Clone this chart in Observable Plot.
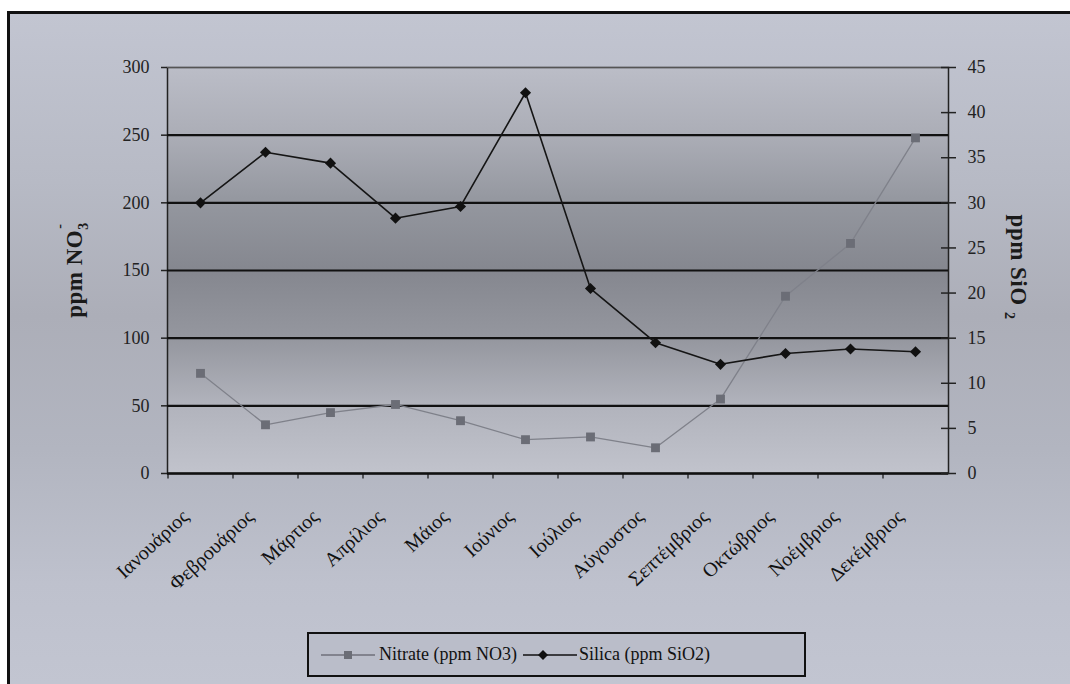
<!DOCTYPE html>
<html><head><meta charset="utf-8">
<script src="https://cdn.jsdelivr.net/npm/d3@7"></script>
<script src="https://cdn.jsdelivr.net/npm/@observablehq/plot@0.6"></script>
<style>
body{margin:0;background:#fff;width:1070px;height:684px;overflow:hidden;font-family:"Liberation Serif","Times New Roman",serif;position:relative;}
#bg{position:absolute;left:7px;top:11px;width:1060px;height:670px;border-left:3px solid #111;border-top:3px solid #111;
 background:linear-gradient(to bottom,#c2c5d1 0%,#b7bac5 25%,#acaeb8 45%,#b2b5c0 65%,#bec1cd 85%,#c2c5d1 100%);}
#chart{position:absolute;left:0;top:0;}
.ttl{position:absolute;font-weight:bold;font-size:23px;color:#1a1a1a;white-space:nowrap;letter-spacing:0.5px;font-family:"Liberation Serif",serif;}
#legend{position:absolute;left:307px;top:632px;width:495px;height:41px;border:2px solid #111;background:#babdc9;
 display:flex;align-items:center;font-size:18px;color:#111;}
#legend span{white-space:nowrap;font-family:"Liberation Serif","Times New Roman",serif;}
</style></head><body>
<div id="bg"></div>
<div id="chart"></div>
<div class="ttl" id="tl" style="left:75px;top:270px;transform:translate(-50%,-50%) rotate(-90deg);">ppm NO<span style="position:relative;display:inline-block;"><span style="font-size:14px;position:relative;top:6px;">3</span><span style="font-size:14px;position:absolute;left:1px;top:-10px;">-</span></span></div>
<div class="ttl" id="tr" style="left:1018px;top:267px;transform:translate(-50%,-50%) rotate(90deg);">ppm SiO <span style="font-size:14px;position:relative;top:6px;">2</span></div>
<div id="legend">
 <svg width="62" height="20" style="margin-left:8px"><line x1="4" y1="10" x2="58" y2="10" stroke="#6f717a" stroke-width="1.5"/><rect x="27" y="6" width="8" height="8" fill="#6b6d76"/></svg>
 <span>Nitrate (ppm NO3)</span>
 <svg width="58" height="20" style="margin-left:4px"><line x1="2" y1="10" x2="56" y2="10" stroke="#111" stroke-width="1.5"/><path d="M22,5 L27,10 L22,15 L17,10 Z" fill="#111"/></svg>
 <span>Silica (ppm SiO2)</span>
</div>
<script>
const months = ["Ιανουάριος","Φεβρουάριος","Μάρτιος","Απρίλιος","Μάιος","Ιούνιος","Ιούλιος","Αύγουστος","Σεπτέμβριος","Οκτώβριος","Νοέμβριος","Δεκέμβριος"];
const nitrate = [74, 36, 45, 51, 39, 25, 27, 19, 55, 131, 170, 248];
const silica = [30, 35.6, 34.4, 28.3, 29.6, 42.2, 20.5, 14.5, 12.1, 13.3, 13.8, 13.5];
const leftTicks = [0, 50, 100, 150, 200, 250, 300];
const rightTicks = [0, 5, 10, 15, 20, 25, 30, 35, 40, 45];

const k = 300 / 45;
const rows = months.map((m, i) => ({month: m, nitrate: nitrate[i], silica: silica[i] * k}));
const font = "'Liberation Serif', 'Times New Roman', serif";

const chart = Plot.plot({
  width: 1070, height: 630,
  marginLeft: 167, marginRight: 122, marginTop: 67, marginBottom: 157,
  style: {background: "transparent", fontFamily: font, fontSize: "17px", color: "#222"},
  x: {type: "point", domain: months, padding: 0.5, axis: null},
  y: {domain: [0, 300], axis: null},
  marks: [
    Plot.frame({fill: "url(#pg)", stroke: "#222", strokeWidth: 1.5}),
    Plot.ruleY(leftTicks.slice(1, -1), {stroke: "#111", strokeWidth: 2.2}),
    Plot.ruleY([300], {stroke: "#555", strokeWidth: 1.2}),
    Plot.ruleY([0], {stroke: "#111", strokeWidth: 2.5}),
    Plot.ruleX(months, {x: d => d, y1: 0, y2: -4, dx: -32.5, stroke: "#111", strokeWidth: 1.2}),
    Plot.axisY(leftTicks, {anchor: "left", tickSize: 6, tickPadding: 12, tickFormat: d => d, fontSize: 18, fill: "#222", strokeWidth: 1.5}),
    Plot.axisY(rightTicks.map(v => v * k), {anchor: "right", tickSize: 15, dx: -8, tickFormat: () => "", strokeWidth: 1.5}),
    Plot.axisY(rightTicks.map(v => v * k), {anchor: "right", tickSize: 0, tickPadding: 19, tickFormat: d => Math.round(d / k), fontSize: 18, fill: "#222"}),
    Plot.text(months, {x: d => d, y: 0, text: d => d, rotate: -43, textAnchor: "end", dx: -15, dy: 40, fontSize: 20, fill: "#111"}),
    Plot.line(rows, {x: "month", y: "nitrate", stroke: "#7f818a", strokeWidth: 1.3}),
    Plot.dot(rows, {x: "month", y: "nitrate", symbol: "square", r: 5, fill: "#6b6d76", stroke: "none"}),
    Plot.line(rows, {x: "month", y: "silica", stroke: "#151515", strokeWidth: 1.6}),
    Plot.dot(rows, {x: "month", y: "silica", symbol: "diamond2", r: 5, fill: "#111", stroke: "none"})
  ]
});

const defs = d3.select(chart).insert("defs", ":first-child");
const grad = defs.append("linearGradient").attr("id", "pg").attr("x1", 0).attr("y1", 0).attr("x2", 0).attr("y2", 1);
[[0, "#bbbdc7"], [0.17, "#abadb6"], [0.33, "#94979f"], [0.5, "#85878f"], [0.67, "#95979f"], [0.83, "#b1b3bc"], [1, "#c1c3cc"]]
  .forEach(([o, c]) => grad.append("stop").attr("offset", o).attr("stop-color", c));

document.getElementById("chart").appendChild(chart);
</script>
</body></html>
